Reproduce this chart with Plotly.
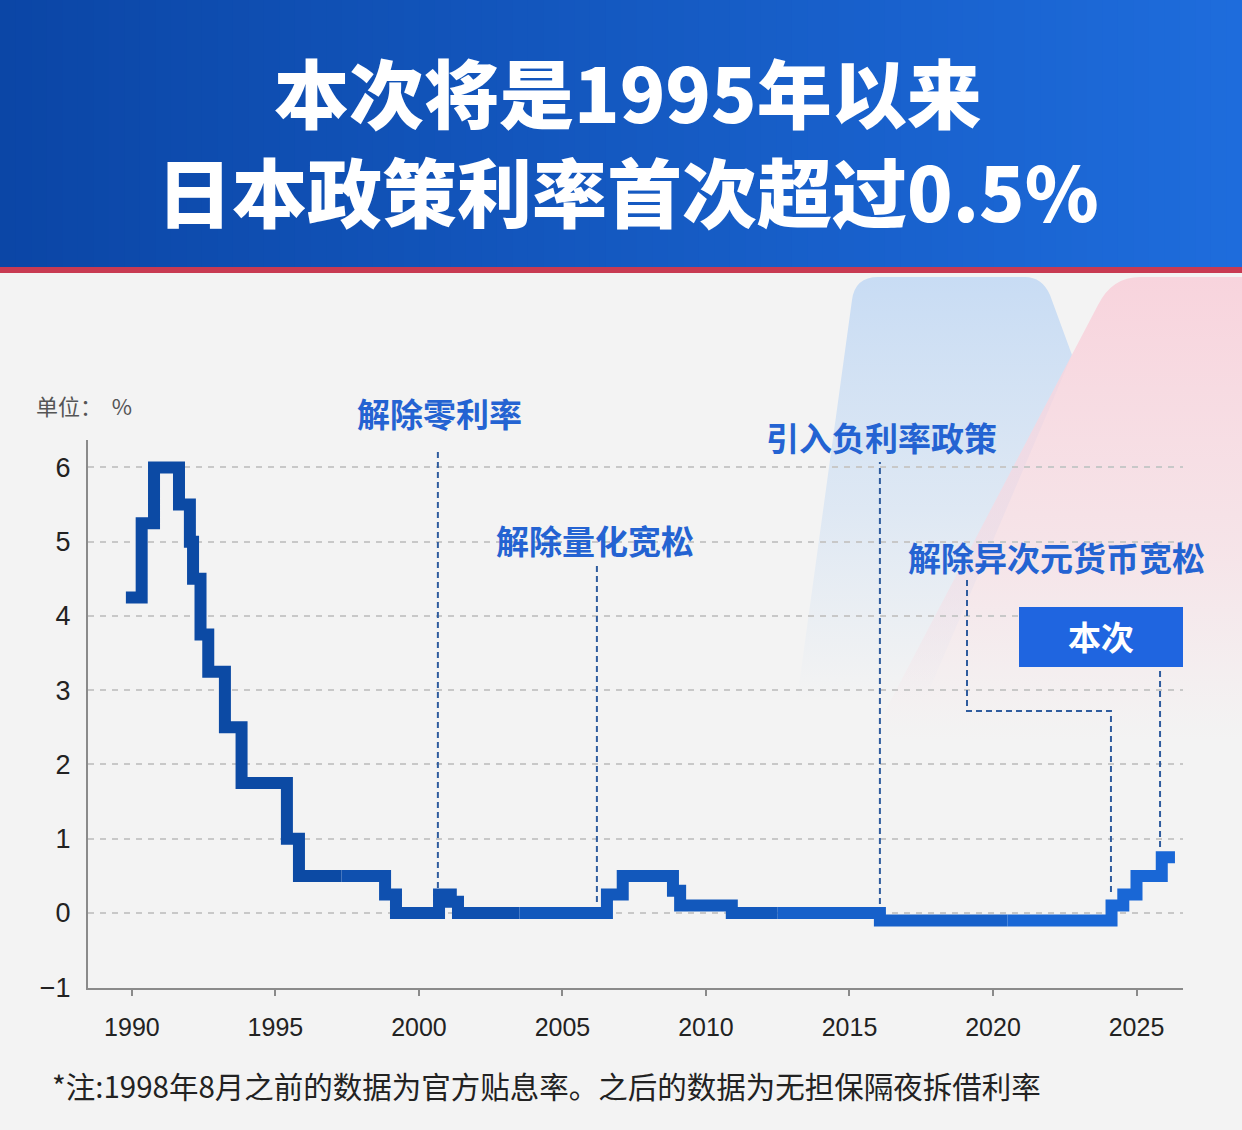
import base64
import plotly.graph_objects as go

# ---------------- data ----------------
change_dates = [1989.79, 1990.34, 1990.77, 1991.64, 1992.02, 1992.13, 1992.39, 1992.66,
                1993.24, 1993.82, 1995.40, 1995.82, 1998.82, 1999.20, 2000.70, 2001.11,
                2001.36, 2006.55, 2007.10, 2008.85, 2009.10, 2010.90, 2016.06, 2024.13,
                2024.54, 2025.00, 2025.88]
rates = [4.25, 5.25, 6.0, 5.5, 5.0, 4.5, 3.75, 3.25,
         2.5, 1.75, 1.0, 0.5, 0.25, 0.0, 0.25, 0.15,
         0.0, 0.25, 0.5, 0.3, 0.1, 0.0, -0.1, 0.1,
         0.25, 0.5, 0.75]
series_end = 2026.34

x_tick_vals = [1990, 1995, 2000, 2005, 2010, 2015, 2020, 2025]
y_tick_vals = [-1, 0, 1, 2, 3, 4, 5, 6]
y_tick_text = ["−1", "0", "1", "2", "3", "4", "5", "6"]

event_labels = ["解除零利率", "解除量化宽松", "引入负利率政策", "解除异次元货币宽松", "本次"]
event_dates = [2000.66, 2006.20, 2016.06, 2024.11, 2025.82]

title_lines = ["本次将是1995年以来", "日本政策利率首次超过0.5%"]
unit_text = "单位：  %"
note_text = "*注:1998年8月之前的数据为官方贴息率。之后的数据为无担保隔夜拆借利率"

# ---------------- geometry ----------------
W, H = 1242, 1130
ML, MR, MT, MB = 88, 59, 440, 142
X_RANGE = [1988.47, 2026.62]
Y_RANGE = [-1.01, 6.37]
PW, PH = W - ML - MR, H - MT - MB


def px_x(px):
    return (px - ML) / PW


def px_y(py):
    return (H - MB - py) / PH


def dx(px):
    return X_RANGE[0] + (px - ML) / PW * (X_RANGE[1] - X_RANGE[0])


def dy(py):
    return Y_RANGE[0] + (H - MB - py) / PH * (Y_RANGE[1] - Y_RANGE[0])


# step vertices from the data
xs, ys = [], []
for i, (d, r) in enumerate(zip(change_dates, rates)):
    nxt = change_dates[i + 1] if i + 1 < len(change_dates) else series_end
    xs += [d, nxt]
    ys += [r, r]

split_at = [1997.3, 2003.5, 2012.5, 2020.5]
chunks = [[(xs[0], ys[0])]]
si = 0
for k in range(1, len(xs)):
    xa, ya = xs[k - 1], ys[k - 1]
    xb, yb = xs[k], ys[k]
    while si < len(split_at) and ya == yb and xa < split_at[si] <= xb:
        chunks[-1].append((split_at[si], ya))
        chunks.append([(split_at[si], ya)])
        si += 1
    chunks[-1].append((xb, yb))

c0 = (10, 70, 158)
c1 = (26, 106, 218)

fig = go.Figure()
for ch in chunks:
    mx = (ch[0][0] + ch[-1][0]) / 2
    t = (mx - 1990) / (2026 - 1990)
    t = max(0, min(1, t))
    col = tuple(round(a + (b - a) * t) for a, b in zip(c0, c1))
    fig.add_trace(go.Scatter(
        x=[p[0] for p in ch], y=[p[1] for p in ch], mode="lines",
        line=dict(color="rgb(%d,%d,%d)" % col, width=12),
        hoverinfo="skip", showlegend=False, cliponaxis=False))

shapes = []

# banner gradient
N = 80
for i in range(N):
    t = i / (N - 1)
    col = tuple(round(a + (b - a) * t) for a, b in zip((11, 70, 166), (30, 108, 220)))
    shapes.append(dict(type="rect", xref="paper", yref="paper",
                       x0=px_x(W * i / N), x1=px_x(W * (i + 1) / N + 1),
                       y0=px_y(268), y1=px_y(0),
                       fillcolor="rgb(%d,%d,%d)" % col, line=dict(width=0), layer="below"))
shapes.append(dict(type="rect", xref="paper", yref="paper",
                   x0=px_x(0), x1=px_x(W), y0=px_y(273), y1=px_y(267),
                   fillcolor="rgb(200,58,82)", line=dict(width=0), layer="below"))

# faded decorative shapes (background ornament) as an inline SVG image
deco_svg = (
    "<svg xmlns='http://www.w3.org/2000/svg' width='1242' height='1130' viewBox='0 0 1242 1130'>"
    "<defs>"
    "<linearGradient id='gb' x1='0' y1='0' x2='0' y2='1'>"
    "<stop offset='0' stop-color='rgb(200,220,244)' stop-opacity='1'/>"
    "<stop offset='0.55' stop-color='rgb(205,223,244)' stop-opacity='0.55'/>"
    "<stop offset='1' stop-color='rgb(210,226,244)' stop-opacity='0'/>"
    "</linearGradient>"
    "<linearGradient id='gp' x1='0' y1='0' x2='0' y2='1'>"
    "<stop offset='0' stop-color='rgb(248,212,221)' stop-opacity='1'/>"
    "<stop offset='0.6' stop-color='rgb(248,216,224)' stop-opacity='0.55'/>"
    "<stop offset='1' stop-color='rgb(248,220,226)' stop-opacity='0'/>"
    "</linearGradient>"
    "</defs>"
    "<path d='M 852,300 Q 855,277 878,277 L 1025,277 Q 1042,277 1050,295 L 1072,355 "
    "L 925,700 L 797,700 Z' fill='url(#gb)'/>"
    "<path d='M 1098,305 Q 1112,277 1140,277 L 1242,277 L 1242,740 L 870,740 Z' fill='url(#gp)'/>"
    "</svg>"
)
deco_src = "data:image/svg+xml;base64," + base64.b64encode(deco_svg.encode("utf-8")).decode("ascii")

# event dashed lines
DASH = dict(color="#2f5c9e", width=2, dash="6px,4px")
shapes.append(dict(type="line", x0=event_dates[0], x1=event_dates[0], y0=dy(888), y1=dy(452), line=DASH))
shapes.append(dict(type="line", x0=event_dates[1], x1=event_dates[1], y0=dy(902), y1=dy(565), line=DASH))
shapes.append(dict(type="line", x0=event_dates[2], x1=event_dates[2], y0=dy(904), y1=dy(462), line=DASH))
shapes.append(dict(type="path", xref="x", yref="y",
                   path="M %f,%f L %f,%f L %f,%f L %f,%f" % (
                       dx(967), dy(580), dx(967), dy(711), event_dates[3], dy(711), event_dates[3], dy(895)),
                   line=DASH))
shapes.append(dict(type="line", x0=event_dates[4], x1=event_dates[4], y0=dy(847), y1=dy(667), line=DASH))
# "本次" box
shapes.append(dict(type="rect", x0=dx(1019), x1=dx(1183), y0=dy(667), y1=dy(607),
                   fillcolor="#1f65e0", line=dict(width=0)))

annotations = []
TF = "Noto Sans CJK SC"
for i, line in enumerate(title_lines):
    annotations.append(dict(text=line, xref="paper", yref="paper", x=px_x(628), y=px_y([91, 190][i]),
                            xanchor="center", yanchor="middle", showarrow=False,
                            font=dict(family=TF, size=75, color="white", weight=900)))

label_pos = [(439, 413), (595, 540), (881, 437), (1056, 557), (1101, 636)]
for (lx, ly), lab in zip(label_pos, event_labels):
    color = "white" if lab == "本次" else "#2463d2"
    annotations.append(dict(text=lab, xref="paper", yref="paper", x=px_x(lx), y=px_y(ly),
                            xanchor="center", yanchor="middle",
                            showarrow=False, font=dict(family=TF, size=33, color=color, weight=700)))

annotations.append(dict(text=unit_text, xref="paper", yref="paper", x=px_x(34), y=px_y(405),
                        xanchor="left", yanchor="middle", showarrow=False,
                        font=dict(family=TF, size=22, color="#555555")))
annotations.append(dict(text=note_text, xref="paper", yref="paper", x=px_x(50), y=px_y(1085),
                        xanchor="left", yanchor="middle", showarrow=False,
                        font=dict(family=TF, size=29.5, color="#222222")))

fig.update_layout(
    width=W, height=H, margin=dict(l=ML, r=MR, t=MT, b=MB, autoexpand=False),
    paper_bgcolor="#f3f3f3", plot_bgcolor="rgba(0,0,0,0)",
    shapes=shapes, annotations=annotations, showlegend=False,
    images=[dict(source=deco_src, xref="paper", yref="paper", x=px_x(0), y=px_y(0),
                 sizex=W / PW, sizey=H / PH, xanchor="left", yanchor="top",
                 sizing="stretch", layer="below")],
    xaxis=dict(range=X_RANGE, showgrid=False, zeroline=False, showline=True,
               linecolor="#8a8a8a", linewidth=2, ticks="outside", ticklen=6,
               tickcolor="#8a8a8a", tickwidth=2, tickvals=x_tick_vals,
               tickfont=dict(family="Liberation Sans", size=25, color="#222222"),
               ticklabelstandoff=10, fixedrange=True),
    yaxis=dict(range=Y_RANGE, showgrid=True, gridcolor="#c8c8c8", gridwidth=1.5,
               griddash="6px,6px", zeroline=False, showline=True, linecolor="#8a8a8a",
               linewidth=2, ticks="", tickvals=y_tick_vals, ticktext=y_tick_text,
               tickfont=dict(family="Liberation Sans", size=27, color="#222222"),
               ticklabelstandoff=10, fixedrange=True),
)

fig.write_html("out.html", config={"displayModeBar": False},
               post_script="document.body.style.margin='0';document.body.style.padding='0';")
